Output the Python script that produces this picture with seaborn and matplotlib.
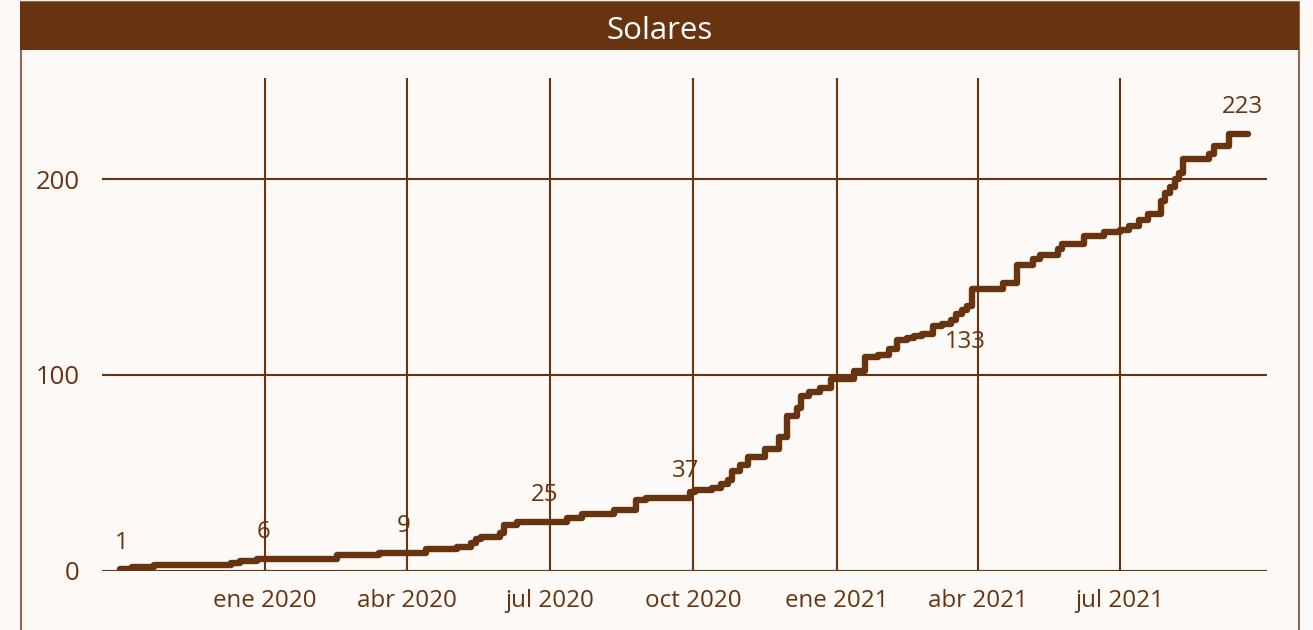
import matplotlib
matplotlib.use("Agg")
import matplotlib.pyplot as plt
from matplotlib.patches import Rectangle
import pandas as pd
import seaborn as sns

# ---- data (cumulative count, step changes) ----
dates = [
    "2019-09-30", "2019-10-08", "2019-10-22", "2019-12-10", "2019-12-16", "2019-12-27",
    "2020-02-16", "2020-03-14", "2020-04-13", "2020-05-03", "2020-05-12", "2020-05-15",
    "2020-05-18", "2020-05-30", "2020-06-02", "2020-06-10", "2020-07-12", "2020-07-22",
    "2020-08-11", "2020-08-25", "2020-09-01", "2020-09-29", "2020-10-02", "2020-10-13",
    "2020-10-19", "2020-10-23", "2020-10-26", "2020-10-31", "2020-11-05", "2020-11-16",
    "2020-11-25", "2020-11-30", "2020-12-06", "2020-12-09", "2020-12-14", "2020-12-21",
    "2020-12-28", "2021-01-12", "2021-01-19", "2021-01-27", "2021-02-03", "2021-02-08",
    "2021-02-15", "2021-02-19", "2021-02-24", "2021-03-03", "2021-03-09", "2021-03-15",
    "2021-03-18", "2021-03-22", "2021-03-25", "2021-03-28", "2021-04-17", "2021-04-26",
    "2021-05-06", "2021-05-11", "2021-05-22", "2021-05-25", "2021-06-08", "2021-06-21",
    "2021-07-01", "2021-07-07", "2021-07-13", "2021-07-19", "2021-07-27", "2021-07-30",
    "2021-08-02", "2021-08-05", "2021-08-08", "2021-08-10", "2021-08-27", "2021-08-30",
    "2021-09-09", "2021-09-21",
]
counts = [
    1, 2, 3, 4, 5, 6,
    8, 9, 11, 12, 14, 16,
    17, 19, 23, 25, 27, 29,
    31, 36, 37, 40, 41, 42,
    44, 46, 51, 54, 58, 62,
    68, 79, 83, 89, 91, 93,
    98, 102, 109, 110, 113, 118,
    119, 120, 121, 125, 126, 128,
    131, 133, 135, 144, 147, 156,
    159, 161, 164, 167, 171, 173,
    174, 176, 179, 182, 189, 193,
    196, 200, 203, 210, 213, 217,
    223, 223,
]

label_dates = ["2019-09-30", "2020-01-01", "2020-04-01", "2020-07-01", "2020-10-01", "2021-03-22", "2021-09-21"]
label_values = [1, 6, 9, 25, 37, 133, 223]
label_text = ["1", "6", "9", "25", "37", "133", "223"]

tick_dates = ["2020-01-01", "2020-04-01", "2020-07-01", "2020-10-01", "2021-01-01", "2021-04-01", "2021-07-01"]
tick_labels = ["ene 2020", "abr 2020", "jul 2020", "oct 2020", "ene 2021", "abr 2021", "jul 2021"]
y_ticks = [0, 100, 200]

title = "Solares"

# ---- style ----
BROWN = "#68340f"
BG = "#fcf9f6"
W, H = 1313, 630

sns.set_theme(style="white")
plt.rcParams["font.family"] = ["Open Sans", "DejaVu Sans"]

df = pd.DataFrame({"fecha": pd.to_datetime(dates), "total": counts})

fig = plt.figure(figsize=(W / 100, H / 100), dpi=100, facecolor=BG)

# outer panel border + title bar
fig.add_artist(Rectangle((20.5 / W, -0.05), (1298.5 - 20.5) / W, 1 - 2 / H + 0.05,
                         transform=fig.transFigure, facecolor="none",
                         edgecolor="#8e6b50", linewidth=1.5, zorder=0))
fig.add_artist(Rectangle((20 / W, 1 - 50 / H), 1279 / W, 48 / H,
                         transform=fig.transFigure, facecolor=BROWN,
                         edgecolor="none", zorder=1))
fig.text(659.5 / W, 1 - 31 / H, title, color="white", fontsize=22.5,
         ha="center", va="center")

ax_left, ax_right = 102 / W, 1267 / W
ax_bottom, ax_top = 1 - 570.5 / H, 1 - 78 / H
ax = fig.add_axes([ax_left, ax_bottom, ax_right - ax_left, ax_top - ax_bottom])
ax.set_facecolor(BG)

sns.lineplot(data=df, x="fecha", y="total", ax=ax, color=BROWN, linewidth=4.6,
             drawstyle="steps-post", estimator=None, solid_capstyle="round",
             solid_joinstyle="round", zorder=3)

ax.set_xlim(pd.Timestamp("2019-09-18 16:00"), pd.Timestamp("2021-10-03"))
ax.set_ylim(0, 251.6)

ax.set_xticks(pd.to_datetime(tick_dates))
ax.set_xticklabels(tick_labels)
ax.set_yticks(y_ticks)
ax.set_yticklabels([str(v) for v in y_ticks])
ax.tick_params(axis="both", length=0, colors=BROWN)
ax.tick_params(axis="x", pad=13, labelsize=17.4)
ax.tick_params(axis="y", pad=16, labelsize=18.5)

ax.grid(True, color=BROWN, linewidth=1.5)
ax.set_axisbelow(True)
for s in ["top", "right", "left", "bottom"]:
    ax.spines[s].set_visible(False)
ax.set_xlabel("")
ax.set_ylabel("")

offsets = [(2, 26), (-2, 27), (-4, 27), (-5, 27), (-8, 27), (3.5, -32), (-6, 27)]
for d, v, t, (dx, dy) in zip(label_dates, label_values, label_text, offsets):
    ax.annotate(t, xy=(pd.Timestamp(d), v), xytext=(dx, dy),
                textcoords="offset pixels", ha="center", va="center",
                fontsize=17.3, color=BROWN, annotation_clip=False, zorder=4)

fig.savefig("out.png", dpi=100, facecolor=BG)
